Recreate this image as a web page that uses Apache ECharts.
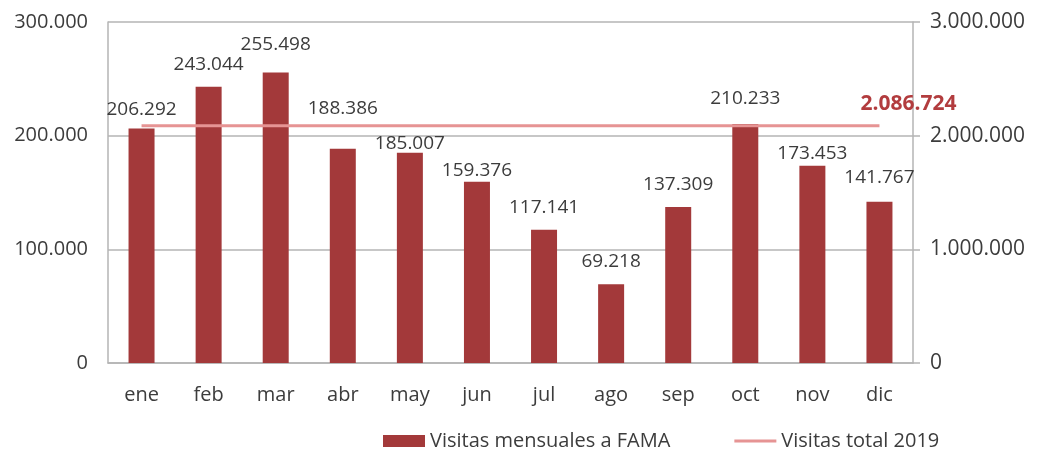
<!DOCTYPE html>
<html lang="es">
<head>
  <meta charset="UTF-8">
  <title>Visitas FAMA 2019</title>
  <style>
    html, body { margin: 0; padding: 0; background: #fff; }
    #main { width: 1038px; height: 460px; }
  </style>
</head>
<body>
  <div id="main"></div>
  <script src="https://cdn.jsdelivr.net/npm/echarts@6/dist/echarts.min.js"></script>
  <script>
  // datos
  const meses = ['ene', 'feb', 'mar', 'abr', 'may', 'jun', 'jul', 'ago', 'sep', 'oct', 'nov', 'dic'];
  const visitasMensuales = [206292, 243044, 255498, 188386, 185007, 159376, 117141, 69218, 137309, 210233, 173453, 141767];
  const visitasTotal = 2086724;
  const ejeIzq = { min: 0, max: 300000, interval: 100000 };
  const ejeDer = { min: 0, max: 3000000, interval: 1000000 };

  // etiquetas movidas a mano en el original (desplazamiento vertical, px)
  const ajusteEtiqueta = [4, 0, -5, -18, 13, 11, 0, 0, 0, -3, 10, -2];

  // 1234567 -> 1.234.567
  function fmt(v) {
    return String(v).replace(/\B(?=(\d{3})+(?!\d))/g, '.');
  }

  const font = 'Open Sans';
  const fs = 19;
  const fsEje = 20;
  const gris = '#3c3c3c';
  const rojo = '#A3393A';
  const rosa = '#E69494';
  const linea = '#b4b4b4';

  let barData = visitasMensuales.map((v, i) => ({
    value: v,
    label: { offset: [0, ajusteEtiqueta[i]] }
  }));

  let lineData = meses.map(() => visitasTotal);

  let myChart = echarts.init(document.getElementById('main'));
  let option = {
    animation: false,
    textStyle: { fontFamily: font },
    grid: { left: 108, right: 125, top: 22, bottom: 97 },
    legend: {
      bottom: 4,
      left: 378,
      itemWidth: 42,
      itemHeight: 12,
      itemGap: 64,
      textStyle: { color: gris, fontSize: fsEje, fontFamily: font },
      data: [
        { name: 'Visitas mensuales a FAMA', icon: 'rect' },
        { name: 'Visitas total 2019', icon: 'path://M0,4.5 L42,4.5 L42,7.5 L0,7.5 Z' }
      ]
    },
    xAxis: {
      type: 'category',
      data: meses,
      axisLine: { lineStyle: { color: linea, width: 1.5 } },
      axisTick: { show: false },
      axisLabel: { color: gris, fontSize: fsEje, margin: 22, fontFamily: font }
    },
    yAxis: [{
      type: 'value',
      min: ejeIzq.min, max: ejeIzq.max, interval: ejeIzq.interval,
      axisLine: { show: true, lineStyle: { color: linea, width: 1.5 } },
      axisTick: { show: false },
      splitLine: { lineStyle: { color: linea, width: 1.5 } },
      axisLabel: { color: gris, fontSize: fsEje, margin: 20, formatter: fmt, fontFamily: font }
    }, {
      type: 'value',
      position: 'right',
      min: ejeDer.min, max: ejeDer.max, interval: ejeDer.interval,
      axisLine: { show: true, lineStyle: { color: linea, width: 1.5 } },
      axisTick: { show: true, length: 7, lineStyle: { color: linea, width: 1.5 } },
      splitLine: { show: false },
      axisLabel: { color: gris, fontSize: fsEje + 1, margin: 17, formatter: fmt, fontFamily: font }
    }],
    series: [{
      name: 'Visitas mensuales a FAMA',
      type: 'bar',
      yAxisIndex: 0,
      barWidth: 26,
      data: barData,
      itemStyle: { color: rojo },
      label: {
        show: true, position: 'top', distance: 13,
        color: gris, fontSize: fs, fontFamily: font,
        formatter: p => fmt(p.value)
      }
    }, {
      name: 'Visitas total 2019',
      type: 'line',
      yAxisIndex: 1,
      data: lineData,
      symbol: 'none',
      lineStyle: { color: rosa, width: 3 },
      itemStyle: { color: rosa },
      endLabel: {
        show: true,
        offset: [-27, -22],
        formatter: p => fmt(p.value),
        color: '#B23C3E', fontWeight: 'bold', fontSize: 21, fontFamily: font
      },
      z: 3
    }]
  };

  myChart.setOption(option);
  </script>
</body>
</html>
